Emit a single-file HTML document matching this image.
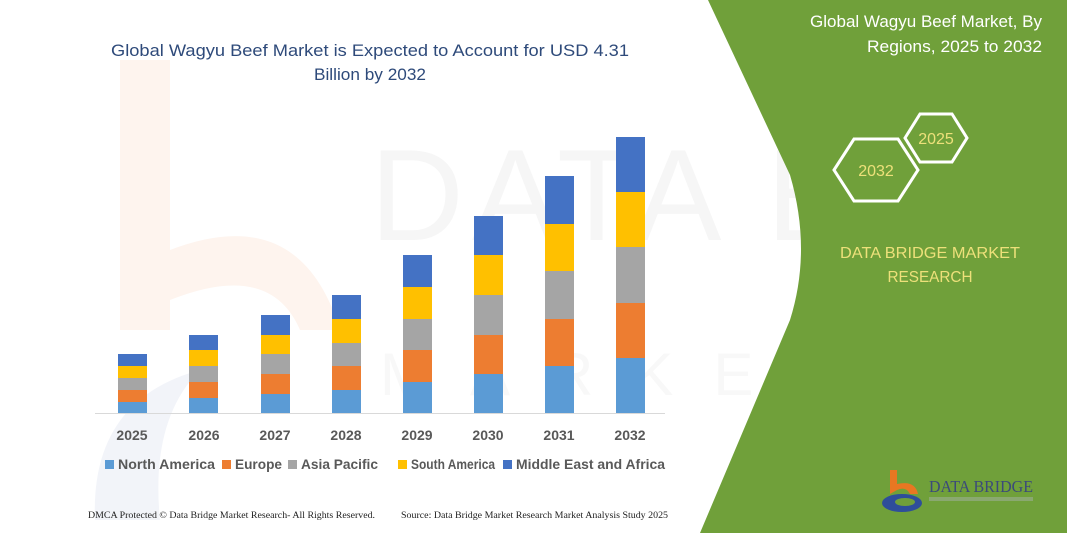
<!DOCTYPE html>
<html><head><meta charset="utf-8"><style>
html,body{margin:0;padding:0;background:#fff;}
svg{display:block;}
</style></head><body>
<svg width="1067" height="533" viewBox="0 0 1067 533" xmlns="http://www.w3.org/2000/svg" font-family="Liberation Sans, sans-serif">
<rect width="1067" height="533" fill="#fff"/>
<path d="M120 60 L170 60 L170 250 Q300 200 340 330 L300 330 Q270 260 170 300 L170 330 L120 330 Z" fill="#fef4ee"/>
<path d="M95 520 Q90 400 200 370 Q150 420 160 520 Z" fill="#f2f4f9"/>
<text x="370" y="240" font-size="130" fill="#f6f6f6" letter-spacing="8">DATA BRIDGE</text>
<text x="380" y="395" font-size="60" fill="#f8f8f8" letter-spacing="40">MARKET RESEARCH</text>
<path d="M708 0 L1067 0 L1067 533 L700 533 L790 320 Q812 250 790 175 Z" fill="#70a03a"/>
<text x="1042" y="27" font-size="17" fill="#fff" text-anchor="end" textLength="232" lengthAdjust="spacingAndGlyphs">Global Wagyu Beef Market, By</text>
<text x="1042" y="52" font-size="17" fill="#fff" text-anchor="end" textLength="175" lengthAdjust="spacingAndGlyphs">Regions, 2025 to 2032</text>
<polygon points="834,170 854,139 898,139 918,170 898,201 854,201" fill="none" stroke="#fff" stroke-width="3"/>
<polygon points="905,138 920,114 952,114 967,138 952,162 920,162" fill="none" stroke="#fff" stroke-width="3"/>
<text x="876" y="176" font-size="16" fill="#ede07a" text-anchor="middle">2032</text>
<text x="936" y="144" font-size="16" fill="#ede07a" text-anchor="middle">2025</text>
<text x="930" y="258" font-size="16" fill="#ede07a" text-anchor="middle" textLength="180" lengthAdjust="spacingAndGlyphs">DATA BRIDGE MARKET</text>
<text x="930" y="282" font-size="16" fill="#ede07a" text-anchor="middle" textLength="85" lengthAdjust="spacingAndGlyphs">RESEARCH</text>
<path d="M890 470 L897 470 L897 484 Q915 480 918 494 L910 494 Q906 486 897 490 L890 494 Z" fill="#e87722"/>
<ellipse cx="902" cy="503" rx="20" ry="9" fill="#2e4e9a"/>
<ellipse cx="905" cy="502" rx="10" ry="4" fill="#70a03a"/>
<text x="929" y="492" font-size="17" fill="#3b4a7a" font-family="Liberation Serif, serif" textLength="104" lengthAdjust="spacingAndGlyphs">DATA BRIDGE</text>
<rect x="929" y="497" width="104" height="4" fill="#8aa870"/>
<text x="370" y="56" font-size="17" fill="#2e4a7a" text-anchor="middle" textLength="518" lengthAdjust="spacingAndGlyphs">Global Wagyu Beef Market is Expected to Account for USD 4.31</text>
<text x="370" y="80" font-size="17" fill="#2e4a7a" text-anchor="middle" textLength="112" lengthAdjust="spacingAndGlyphs">Billion by 2032</text>
<line x1="95" y1="413.5" x2="665" y2="413.5" stroke="#d9d9d9" stroke-width="1"/>
<g>
<rect x="118" y="402" width="29" height="11" fill="#5b9bd5"/><rect x="118" y="390" width="29" height="12" fill="#ed7d31"/><rect x="118" y="378" width="29" height="12" fill="#a5a5a5"/><rect x="118" y="366" width="29" height="12" fill="#ffc000"/><rect x="118" y="354" width="29" height="12" fill="#4472c4"/>
<rect x="189" y="398" width="29" height="15" fill="#5b9bd5"/><rect x="189" y="382" width="29" height="16" fill="#ed7d31"/><rect x="189" y="366" width="29" height="16" fill="#a5a5a5"/><rect x="189" y="350" width="29" height="16" fill="#ffc000"/><rect x="189" y="335" width="29" height="15" fill="#4472c4"/>
<rect x="261" y="394" width="29" height="19" fill="#5b9bd5"/><rect x="261" y="374" width="29" height="20" fill="#ed7d31"/><rect x="261" y="354" width="29" height="20" fill="#a5a5a5"/><rect x="261" y="335" width="29" height="19" fill="#ffc000"/><rect x="261" y="315" width="29" height="20" fill="#4472c4"/>
<rect x="332" y="390" width="29" height="23" fill="#5b9bd5"/><rect x="332" y="366" width="29" height="24" fill="#ed7d31"/><rect x="332" y="343" width="29" height="23" fill="#a5a5a5"/><rect x="332" y="319" width="29" height="24" fill="#ffc000"/><rect x="332" y="295" width="29" height="24" fill="#4472c4"/>
<rect x="403" y="382" width="29" height="31" fill="#5b9bd5"/><rect x="403" y="350" width="29" height="32" fill="#ed7d31"/><rect x="403" y="319" width="29" height="31" fill="#a5a5a5"/><rect x="403" y="287" width="29" height="32" fill="#ffc000"/><rect x="403" y="255" width="29" height="32" fill="#4472c4"/>
<rect x="474" y="374" width="29" height="39" fill="#5b9bd5"/><rect x="474" y="335" width="29" height="39" fill="#ed7d31"/><rect x="474" y="295" width="29" height="40" fill="#a5a5a5"/><rect x="474" y="255" width="29" height="40" fill="#ffc000"/><rect x="474" y="216" width="29" height="39" fill="#4472c4"/>
<rect x="545" y="366" width="29" height="47" fill="#5b9bd5"/><rect x="545" y="319" width="29" height="47" fill="#ed7d31"/><rect x="545" y="271" width="29" height="48" fill="#a5a5a5"/><rect x="545" y="224" width="29" height="47" fill="#ffc000"/><rect x="545" y="176" width="29" height="48" fill="#4472c4"/>
<rect x="616" y="358" width="29" height="55" fill="#5b9bd5"/><rect x="616" y="303" width="29" height="55" fill="#ed7d31"/><rect x="616" y="247" width="29" height="56" fill="#a5a5a5"/><rect x="616" y="192" width="29" height="55" fill="#ffc000"/><rect x="616" y="137" width="29" height="55" fill="#4472c4"/>
</g>
<g font-size="14" font-weight="bold" fill="#595959" text-anchor="middle">
<text x="132" y="440">2025</text><text x="204" y="440">2026</text><text x="275" y="440">2027</text><text x="346" y="440">2028</text><text x="417" y="440">2029</text><text x="488" y="440">2030</text><text x="559" y="440">2031</text><text x="630" y="440">2032</text>
</g>
<g font-size="14" font-weight="bold" fill="#595959">
<rect x="105" y="460" width="9" height="9" fill="#5b9bd5"/><text x="118" y="469" textLength="97" lengthAdjust="spacingAndGlyphs">North America</text>
<rect x="222" y="460" width="9" height="9" fill="#ed7d31"/><text x="235" y="469" textLength="47" lengthAdjust="spacingAndGlyphs">Europe</text>
<rect x="288" y="460" width="9" height="9" fill="#a5a5a5"/><text x="301" y="469" textLength="77" lengthAdjust="spacingAndGlyphs">Asia Pacific</text>
<rect x="398" y="460" width="9" height="9" fill="#ffc000"/><text x="411" y="469" textLength="84" lengthAdjust="spacingAndGlyphs">South America</text>
<rect x="503" y="460" width="9" height="9" fill="#4472c4"/><text x="516" y="469" textLength="149" lengthAdjust="spacingAndGlyphs">Middle East and Africa</text>
</g>
<g font-size="9.5" fill="#222" font-family="Liberation Serif, serif">
<text x="88" y="518" textLength="287" lengthAdjust="spacingAndGlyphs">DMCA Protected © Data Bridge Market Research-  All Rights Reserved.</text>
<text x="401" y="518" textLength="267" lengthAdjust="spacingAndGlyphs">Source:  Data Bridge Market Research  Market Analysis Study 2025</text>
</g>
</svg>
</body></html>
